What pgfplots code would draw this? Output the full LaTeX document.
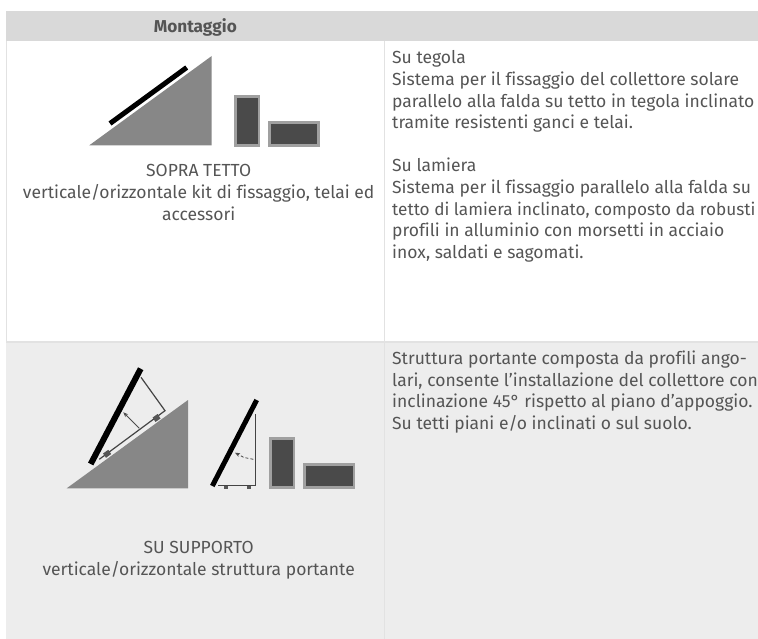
\documentclass[border=0pt]{standalone}
\usepackage{pgfplots}
\pgfplotsset{compat=1.18}
\usepackage{fontspec}
\setmainfont[Ligatures=NoCommon,Numbers=Lining]{Fira Sans}
\usetikzlibrary{arrows.meta}
\definecolor{txt}{HTML}{555555}
\definecolor{hdr}{HTML}{D9D9D9}
\definecolor{rowb}{HTML}{EDEDED}
\definecolor{rule}{HTML}{E2E2E2}
\definecolor{tri}{HTML}{878787}
\definecolor{rectout}{HTML}{A0A0A0}
\definecolor{rectin}{HTML}{4A4A4A}
\newcommand{\tl}[3][17.5]{\node[anchor=base west,inner sep=0pt,text=txt,font=\fontsize{#1}{18}\selectfont] at (axis cs:392,#2) {#3};}
\newcommand{\tc}[2]{\node[anchor=base,inner sep=0pt,text=txt,font=\fontsize{17.5}{18}\selectfont] at (axis cs:198.7,#1) {#2};}
\begin{document}
\begin{tikzpicture}
\begin{axis}[
  width=758pt,height=639pt,scale only axis,
  xmin=0,xmax=758,ymin=0,ymax=639,y dir=reverse,
  ticks=none,axis line style={draw=none},clip=true,
]
% backgrounds
\addplot[fill=hdr,draw=none] coordinates {(6,11)(758,11)(758,41)(6,41)} -- cycle;
\addplot[fill=rowb,draw=none] coordinates {(6,342)(758,342)(758,639)(6,639)} -- cycle;
\addplot[rule,line width=1.2pt] coordinates {(384.7,41)(384.7,639)};
\addplot[rule,line width=.8pt] coordinates {(6,41)(6,342)};
\addplot[rule,line width=1.2pt] coordinates {(6,342)(758,342)};
% first drawing
\addplot[fill=tri,draw=none] coordinates {(89.3,145.3)(211.7,56)(211.7,145.3)} -- cycle;
\addplot[black,line width=5pt] coordinates {(110,123.5)(186.7,67.5)};
\addplot[fill=rectin,draw=rectout,line width=2.5pt] coordinates {(235.3,96.3)(259,96.3)(259,145.5)(235.3,145.5)} -- cycle;
\addplot[fill=rectin,draw=rectout,line width=2.5pt] coordinates {(269.5,122.3)(318.5,122.3)(318.5,145.5)(269.5,145.5)} -- cycle;
% second drawing
\addplot[fill=tri,draw=none] coordinates {(66.7,488.3)(188,400)(188,488.3)} -- cycle;
\addplot[black!50!tri,line width=1.2pt] coordinates {(141,377.3)(165,410.7)(99.3,459.3)};
\addplot[fill=rectin!80!tri,draw=none] coordinates {(152.6,417.5)(157.6,414)(160.5,418.5)(155.5,422)} -- cycle;
\addplot[fill=rectin!80!tri,draw=none] coordinates {(103,453.5)(108.3,449.8)(111.2,454)(106,457.8)} -- cycle;
\addplot[black,line width=6pt] coordinates {(90.7,464)(140.7,368.7)};
\addplot[black!70,line width=.8pt,-{Stealth[length=5pt,width=4pt]}] coordinates {(139.3,428.3)(123.3,412.3)};
\addplot[black!50!tri,line width=1.2pt] coordinates {(255.7,414)(255.7,485.3)(218.3,485.3)};
\addplot[fill=rectin!80!tri,draw=none] coordinates {(224,486)(228,486)(228,488.7)(224,488.7)} -- cycle;
\addplot[fill=rectin!80!tri,draw=none] coordinates {(247.3,486)(251.3,486)(251.3,488.7)(247.3,488.7)} -- cycle;
\addplot[black,line width=5pt] coordinates {(212.3,486)(256.7,400)};
\addplot[black!70,line width=.8pt,densely dashed,-{Stealth[length=5pt,width=4pt]}] coordinates {(253.3,459.3)(244,457.5)(235,452.7)};
\addplot[fill=rectin,draw=rectout,line width=2.5pt] coordinates {(270.5,438.5)(294,438.5)(294,487.5)(270.5,487.5)} -- cycle;
\addplot[fill=rectin,draw=rectout,line width=2.5pt] coordinates {(304.5,464.3)(354,464.3)(354,487.5)(304.5,487.5)} -- cycle;
% texts
\node[anchor=base,inner sep=0pt,text=txt,font=\fontsize{17.2}{18}\selectfont\bfseries] at (axis cs:195.3,33) {Montaggio};
\tc{177}{SOPRA TETTO}
\tc{198.7}{verticale/orizzontale kit di fissaggio, telai ed}
\tc{220.3}{accessori}
\tc{553.8}{SU SUPPORTO}
\tc{575.4}{verticale/orizzontale struttura portante}
\tl{64}{Su tegola}
\tl{85.6}{Sistema per il fissaggio del collettore solare}
\tl{107.2}{parallelo alla falda su tetto in tegola inclinato}
\tl{128.8}{tramite resistenti ganci e telai.}
\tl{172}{Su lamiera}
\tl{193.6}{Sistema per il fissaggio parallelo alla falda su}
\tl[17.2]{215.2}{tetto di lamiera inclinato, composto da robusti}
\tl{236.8}{profili in alluminio con morsetti in acciaio}
\tl{258.4}{inox, saldati e sagomati.}
\tl{364.3}{Struttura portante composta da profili ango-}
\tl{386}{lari, consente l'installazione del collettore con}
\tl{407.6}{inclinazione 45° rispetto al piano d'appoggio.}
\tl{429.2}{Su tetti piani e/o inclinati o sul suolo.}
\end{axis}
\end{tikzpicture}
\end{document}
